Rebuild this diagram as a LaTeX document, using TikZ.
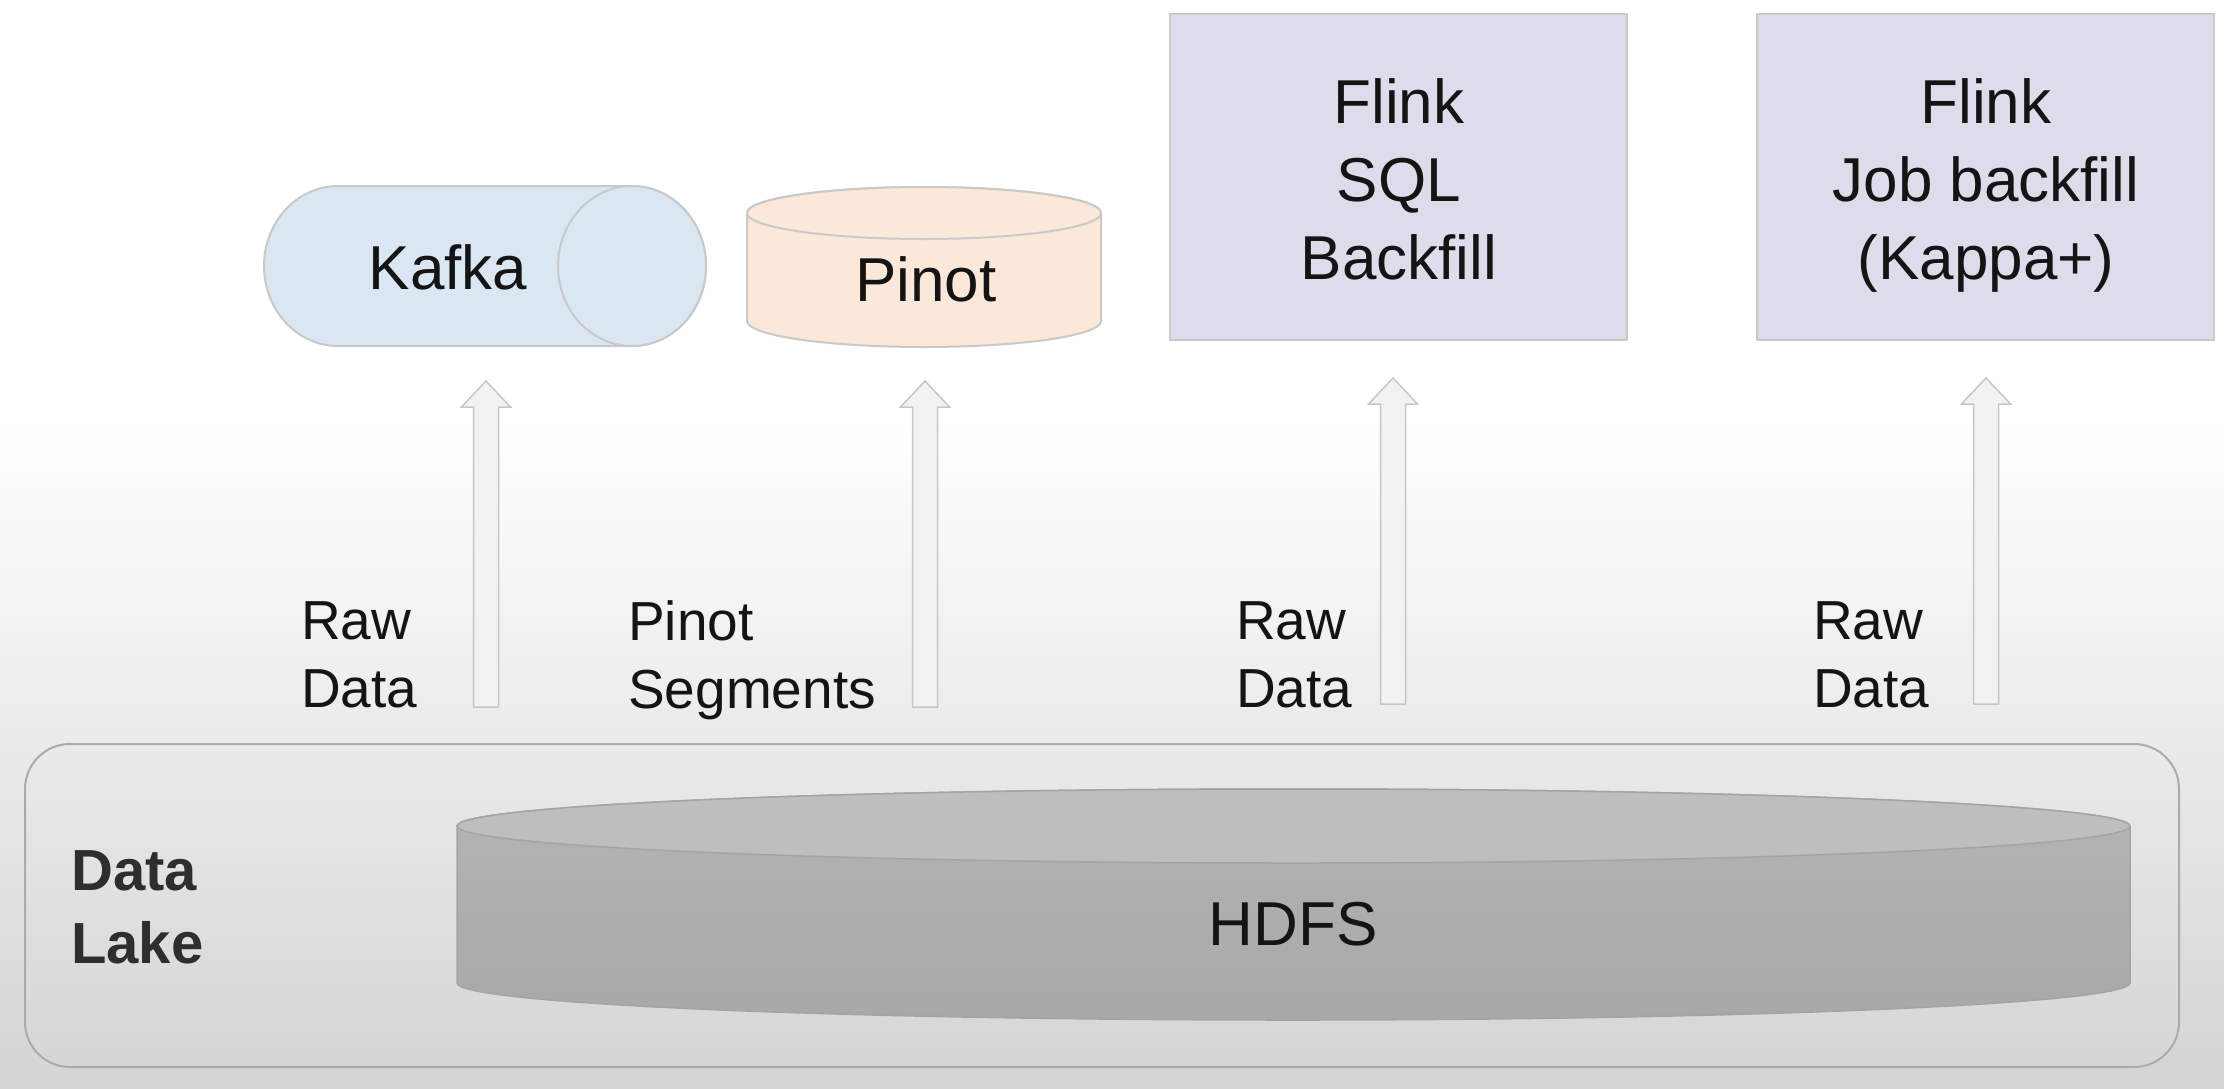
\documentclass[tikz,border=0pt]{standalone}
\usepackage{fontspec}
\setmainfont{Liberation Sans}
\usetikzlibrary{calc}
\definecolor{bgbot}{HTML}{D4D4D4}
\definecolor{kafkafill}{HTML}{DAE6F2}
\definecolor{pinotfill}{HTML}{FBE8D8}
\definecolor{flinkfill}{HTML}{DEDCEA}
\definecolor{shapeline}{HTML}{C9C9C9}
\definecolor{arrowfill}{HTML}{F2F2F2}
\definecolor{arrowline}{HTML}{C6C6C6}
\definecolor{lakeline}{HTML}{ABABAB}
\definecolor{hdfstop}{HTML}{BEBEBE}
\definecolor{hdfsbodytop}{HTML}{B4B4B4}
\definecolor{hdfsbodybot}{HTML}{A8A8A8}
\definecolor{hdfsline}{HTML}{A4A4A4}
\definecolor{txt}{HTML}{141414}
\definecolor{laketxt}{HTML}{2E2E2E}
\newcommand\blockarrow[2]{%
  \draw[barrow] ($(#1)+(-12.5,0)$) -- ($(#2)+(-12.5,26)$) -- ($(#2)+(-24.5,26)$)
    -- (#2) -- ($(#2)+(24.5,26)$) -- ($(#2)+(12.5,26)$) -- ($(#1)+(12.5,0)$) -- cycle;}
\begin{document}
\begin{tikzpicture}[x=1pt,y=-1pt,
  barrow/.style={fill=arrowfill,draw=arrowline,line width=1.5pt,line join=miter},
  shapeedge/.style={draw=shapeline,line width=2pt},
  bigtxt/.style={font=\fontsize{62}{78}\selectfont,text=txt,inner sep=0pt},
  lbltxt/.style={font=\fontsize{55}{68}\selectfont,text=txt,inner sep=0pt,align=left,text depth=0pt,anchor=west},
  flinkbox/.style={fill=flinkfill,draw=shapeline,line width=2pt}]
\useasboundingbox (0,0) rectangle (2224,1088);
% background
\fill[white] (0,0) rectangle (2224,1088);
\shade[top color=white,bottom color=bgbot] (0,420) rectangle (2224,1088);

% Data lake container
\draw[draw=lakeline,line width=2pt,rounded corners=45pt] (25,744) rectangle (2179,1067);
\node[font=\bfseries\fontsize{58}{73}\selectfont,text=laketxt,inner sep=0pt,align=left,text depth=0pt,anchor=west] (lake) at (71,907) {Data\\Lake};

% HDFS cylinder
\shade[top color=hdfsbodytop,bottom color=hdfsbodybot,draw=hdfsline,line width=1.5pt]
  (457,826) -- (457,983) arc[start angle=180,end angle=360,x radius=836.5pt,y radius=37pt]
  -- (2130,826) arc[start angle=0,end angle=180,x radius=836.5pt,y radius=37pt] -- cycle;
\draw[fill=hdfstop,draw=hdfsline,line width=1.5pt] (1293.5,826) ellipse[x radius=836.5pt,y radius=37pt];
\node[bigtxt] (hdfs) at (1293,924) {HDFS};

% Kafka (horizontal cylinder)
\draw[shapeedge,fill=kafkafill] (632,186) -- (338,186)
  arc[start angle=90,end angle=270,x radius=74pt,y radius=80pt]
  -- (632,346) arc[start angle=270,end angle=450,x radius=74pt,y radius=80pt] -- cycle;
\draw[shapeedge,fill=kafkafill] (632,266) ellipse[x radius=74pt,y radius=80pt];
\node[bigtxt] (kafka) at (448,267) {Kafka};

% Pinot (vertical cylinder)
\draw[shapeedge,fill=pinotfill] (747,213) -- (747,321)
  arc[start angle=180,end angle=360,x radius=177pt,y radius=26pt]
  -- (1101,213) arc[start angle=0,end angle=180,x radius=177pt,y radius=26pt] -- cycle;
\draw[shapeedge,fill=pinotfill] (924,213) ellipse[x radius=177pt,y radius=26pt];
\node[bigtxt] (pinot) at (926,279) {Pinot};

% Flink boxes
\draw[flinkbox] (1170,14) rectangle (1627,340);
\node[bigtxt,align=center,text depth=0pt] (flinksql) at (1399,179) {Flink\\SQL\\Backfill};
\draw[flinkbox] (1757,14) rectangle (2214,340);
\node[bigtxt,align=center,text depth=0pt] (flinkjob) at (1986,179) {Flink\\Job backfill\\(Kappa+)};

% arrow end points
\coordinate (k0) at (486,707);  \coordinate (k1) at (486,381);
\coordinate (p0) at (925,707);  \coordinate (p1) at (925,381);
\coordinate (s0) at (1393,704); \coordinate (s1) at (1393,378);
\coordinate (j0) at (1986,704); \coordinate (j1) at (1986,378);
\blockarrow{k0}{k1}
\blockarrow{p0}{p1}
\blockarrow{s0}{s1}
\blockarrow{j0}{j1}

% labels
\node[lbltxt] (lk) at (301,655) {Raw\\Data};
\node[lbltxt] (lp) at (628,655) {Pinot\\Segments};
\node[lbltxt] (ls) at (1236,655) {Raw\\Data};
\node[lbltxt] (lj) at (1813,655) {Raw\\Data};
\end{tikzpicture}
\end{document}
